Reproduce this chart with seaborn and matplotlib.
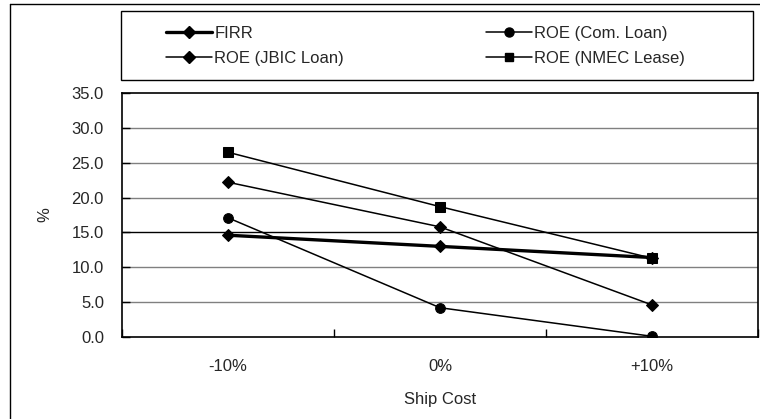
import matplotlib
matplotlib.use("Agg")
import matplotlib.pyplot as plt
from matplotlib.lines import Line2D
from matplotlib.patches import Rectangle
import seaborn as sns
import pandas as pd

# Sensitivity of returns to ship cost
cases = ["-10%", "0%", "+10%"]
firr = [14.6, 13.0, 11.4]
roe_com_loan = [17.1, 4.2, 0.1]
roe_jbic_loan = [22.2, 15.8, 4.6]
roe_nmec_lease = [26.5, 18.7, 11.3]
y_ticks = [0.0, 5.0, 10.0, 15.0, 20.0, 25.0, 30.0, 35.0]

series = {
    "FIRR": firr,
    "ROE (Com. Loan)": roe_com_loan,
    "ROE (JBIC Loan)": roe_jbic_loan,
    "ROE (NMEC Lease)": roe_nmec_lease,
}
rows = []
for name, vals in series.items():
    for i, v in enumerate(vals):
        rows.append({"series": name, "pos": i, "value": v})
df = pd.DataFrame(rows)

sns.set_theme(style="white")
plt.rcParams["font.family"] = ["Liberation Sans", "DejaVu Sans"]
FS = 12

W, H = 760, 419
fig = plt.figure(figsize=(W / 100, H / 100), dpi=100)
ax = fig.add_axes([122 / W, 1 - 337 / H, 636 / W, 244 / H])

styles = {
    "FIRR": dict(marker="D", lw=2.4, ms=6.5),
    "ROE (Com. Loan)": dict(marker="o", lw=1.1, ms=7),
    "ROE (JBIC Loan)": dict(marker="D", lw=1.1, ms=6.5),
    "ROE (NMEC Lease)": dict(marker="s", lw=1.1, ms=6.5),
}

# horizontal gridlines (the 15.0 line is drawn darker)
for t in y_ticks[1:-1]:
    ax.axhline(t, color="black" if t == 15.0 else "#808080",
               lw=1.0, zorder=0)

handles = []
for name in series:
    st = styles[name]
    sub = df[df["series"] == name]
    sns.lineplot(data=sub, x="pos", y="value", ax=ax, color="black",
                 lw=st["lw"], marker=st["marker"], markersize=st["ms"],
                 markeredgecolor="black", markerfacecolor="black",
                 legend=False, zorder=3)
    handles.append(Line2D([], [], color="black", lw=st["lw"],
                          marker=st["marker"], markersize=st["ms"] - 0.5,
                          markerfacecolor="black", markeredgecolor="black",
                          label=name))

ax.set_xlim(-0.5, len(cases) - 0.5)
ax.set_ylim(0, 35)
ax.set_yticks(y_ticks)
ax.set_yticklabels([f"{t:.1f}" for t in y_ticks])
ax.set_xticks(range(len(cases)))
ax.set_xticklabels(cases)
ax.set_xticks([i + 0.5 for i in range(-1, len(cases))], minor=True)
ax.tick_params(axis="x", which="major", length=0, pad=16, labelsize=FS)
ax.tick_params(axis="x", which="minor", direction="in", length=6,
               width=1, color="black", bottom=True)
ax.tick_params(axis="y", which="major", direction="in", length=6,
               width=1, color="black", left=True, pad=13, labelsize=FS)
ax.set_xlabel("Ship Cost", fontsize=FS, labelpad=13)
ax.set_ylabel("%", fontsize=FS, labelpad=13.5)
for s in ax.spines.values():
    s.set_color("black")
    s.set_linewidth(1.2)

# legend box above the plot
fig.add_artist(Rectangle((121 / W, 1 - 80 / H), 632 / W, 69 / H,
                         transform=fig.transFigure, fill=False,
                         edgecolor="black", lw=1.0))
leg = fig.legend(handles=[handles[0], handles[2], handles[1], handles[3]],
                 ncol=2, loc="upper left",
                 bbox_to_anchor=(166 / W, 1 - 26 / H),
                 frameon=False, handlelength=2.75, handletextpad=0.15,
                 borderpad=0, borderaxespad=0, columnspacing=8.5,
                 labelspacing=0.6, fontsize=FS)

# outer chart frame
fig.add_artist(Line2D([10 / W, 10 / W], [0, 1 - 4 / H], color="black",
                      lw=1.0, transform=fig.transFigure))
fig.add_artist(Line2D([10 / W, 1], [1 - 4 / H, 1 - 4 / H], color="black",
                      lw=1.0, transform=fig.transFigure))

fig.savefig("out.png", dpi=100, facecolor="white")
